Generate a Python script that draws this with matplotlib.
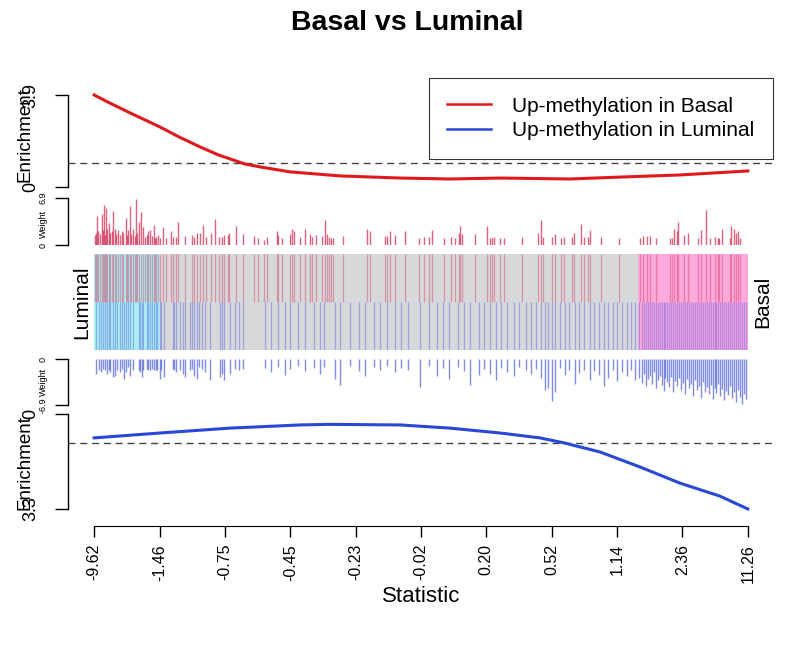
import numpy as np
import matplotlib
matplotlib.use('Agg')
import matplotlib.pyplot as plt
from matplotlib.patches import Rectangle

plt.rcParams['font.family'] = ['Liberation Sans', 'DejaVu Sans']

# x positions are rank fractions (0 = most negative statistic, 1 = most positive)
tick_labels = ['-9.62', '-1.46', '-0.75', '-0.45', '-0.23', '-0.02',
               '0.20', '0.52', '1.14', '2.36', '11.26']

# running enrichment curves
red_x = [0.0, 0.024, 0.055, 0.101, 0.130, 0.162, 0.190, 0.208, 0.230, 0.254, 0.300,
         0.376, 0.468, 0.544, 0.621, 0.728, 0.804, 0.896, 1.0]
red_y = [3.90, 3.56, 3.14, 2.54, 2.12, 1.70, 1.36, 1.19, 0.98, 0.85, 0.64,
         0.47, 0.38, 0.34, 0.38, 0.34, 0.42, 0.51, 0.68]
blue_x = [0.0, 0.101, 0.208, 0.315, 0.361, 0.468, 0.544, 0.621, 0.682, 0.720,
          0.774, 0.835, 0.896, 0.957, 1.0]
blue_y = [0.83, 0.66, 0.49, 0.38, 0.36, 0.38, 0.49, 0.66, 0.83, 1.01,
          1.32, 1.84, 2.40, 2.85, 3.30]

# set members: position and weight
red_pos = [0.001, 0.003, 0.004, 0.006, 0.009, 0.012, 0.013, 0.015, 0.016, 0.018,
           0.020, 0.022, 0.024, 0.027, 0.029, 0.032, 0.034, 0.037, 0.040, 0.042,
           0.044, 0.048, 0.050, 0.052, 0.055, 0.057, 0.059, 0.062, 0.064, 0.066,
           0.068, 0.071, 0.074, 0.078, 0.081, 0.083, 0.086, 0.089, 0.091, 0.093,
           0.095, 0.098, 0.101, 0.105, 0.110, 0.118, 0.121, 0.125, 0.128, 0.139,
           0.149, 0.153, 0.158, 0.162, 0.166, 0.171, 0.178, 0.185, 0.191, 0.195,
           0.198, 0.204, 0.207, 0.217, 0.227, 0.245, 0.251, 0.260, 0.264, 0.279,
           0.281, 0.287, 0.300, 0.303, 0.306, 0.315, 0.323, 0.330, 0.334, 0.340,
           0.349, 0.353, 0.356, 0.359, 0.362, 0.366, 0.380, 0.418, 0.422, 0.445,
           0.448, 0.453, 0.460, 0.476, 0.497, 0.504, 0.513, 0.517, 0.535, 0.546,
           0.552, 0.558, 0.560, 0.563, 0.583, 0.601, 0.606, 0.609, 0.612, 0.621,
           0.627, 0.654, 0.679, 0.683, 0.686, 0.701, 0.705, 0.714, 0.719, 0.731,
           0.734, 0.744, 0.749, 0.756, 0.759, 0.776, 0.803, 0.835, 0.840, 0.845,
           0.851, 0.859, 0.881, 0.884, 0.887, 0.891, 0.893, 0.902, 0.908, 0.924,
           0.928, 0.936, 0.942, 0.950, 0.954, 0.956, 0.960, 0.972, 0.974, 0.979,
           0.982, 0.985, 0.988]
red_wt = [1.4, 1.8, 4.3, 2.0, 1.6, 4.5, 2.2, 5.9, 1.5, 5.4,
          2.4, 3.2, 1.8, 2.1, 5.0, 2.4, 1.6, 2.2, 1.5, 2.0,
          1.7, 3.9, 1.4, 2.2, 5.7, 1.6, 2.3, 1.3, 6.7, 1.8,
          3.4, 4.9, 2.7, 1.2, 1.4, 2.1, 2.2, 1.3, 2.9, 1.1,
          1.2, 1.4, 1.0, 2.7, 1.0, 2.1, 1.2, 1.2, 3.4, 1.3,
          1.5, 1.2, 1.7, 1.8, 2.9, 1.2, 1.7, 3.8, 1.2, 1.2,
          1.5, 1.5, 1.7, 2.8, 1.6, 1.3, 1.1, 0.8, 1.2, 2.0,
          1.5, 1.1, 1.6, 2.3, 2.0, 1.2, 2.3, 1.6, 1.2, 1.5,
          1.3, 3.7, 1.6, 1.2, 1.0, 1.0, 1.3, 2.3, 2.1, 1.3,
          1.3, 2.1, 1.5, 2.0, 1.0, 1.2, 1.2, 2.2, 1.0, 1.2,
          1.0, 1.7, 2.8, 1.6, 1.6, 2.8, 1.0, 1.0, 1.2, 1.0,
          1.0, 1.2, 1.7, 3.6, 1.2, 1.2, 1.6, 1.0, 1.2, 1.2,
          1.7, 3.1, 1.2, 1.2, 2.2, 1.2, 1.0, 1.0, 1.3, 1.3,
          1.3, 1.0, 1.1, 1.1, 2.4, 2.0, 3.4, 1.5, 1.7, 1.0,
          2.2, 5.1, 1.0, 1.2, 1.0, 1.0, 2.3, 1.0, 2.8, 2.4,
          1.7, 2.0, 1.0]

blue_pos = [0.003, 0.007, 0.010, 0.014, 0.017, 0.019, 0.023, 0.025, 0.029, 0.032,
            0.035, 0.039, 0.042, 0.045, 0.049, 0.052, 0.055, 0.059, 0.068, 0.070,
            0.073, 0.075, 0.081, 0.083, 0.086, 0.088, 0.091, 0.094, 0.096, 0.101,
            0.103, 0.107, 0.120, 0.122, 0.125, 0.131, 0.136, 0.139, 0.147, 0.149,
            0.153, 0.157, 0.161, 0.165, 0.170, 0.177, 0.193, 0.195, 0.199, 0.208,
            0.216, 0.221, 0.228, 0.262, 0.270, 0.281, 0.292, 0.300, 0.312, 0.322,
            0.336, 0.345, 0.352, 0.368, 0.376, 0.391, 0.405, 0.415, 0.428, 0.437,
            0.448, 0.460, 0.470, 0.480, 0.498, 0.512, 0.525, 0.534, 0.543, 0.556,
            0.566, 0.575, 0.588, 0.597, 0.606, 0.614, 0.622, 0.631, 0.642, 0.650,
            0.660, 0.668, 0.676, 0.683, 0.690, 0.695, 0.700, 0.705, 0.712, 0.720,
            0.727, 0.735, 0.742, 0.750, 0.758, 0.765, 0.772, 0.780, 0.786, 0.793,
            0.800, 0.808, 0.815, 0.822, 0.828, 0.834, 0.838, 0.841, 0.844, 0.847,
            0.850, 0.853, 0.856, 0.859, 0.862, 0.865, 0.868, 0.871, 0.874, 0.877,
            0.880, 0.883, 0.886, 0.889, 0.892, 0.895, 0.898, 0.901, 0.904, 0.907,
            0.910, 0.913, 0.916, 0.919, 0.922, 0.925, 0.928, 0.931, 0.934, 0.937,
            0.940, 0.943, 0.946, 0.949, 0.952, 0.955, 0.958, 0.961, 0.964, 0.967,
            0.970, 0.973, 0.976, 0.979, 0.982, 0.985, 0.988, 0.991, 0.994, 0.997]
blue_wt = [2.2, 1.7, 2.0, 1.5, 1.7, 2.2, 1.7, 2.0, 2.7, 2.5,
           1.7, 2.0, 1.5, 3.0, 2.0, 1.2, 2.5, 1.7, 1.7, 2.0,
           2.7, 1.7, 1.5, 1.7, 1.7, 1.5, 1.7, 1.7, 1.7, 3.0,
           1.7, 2.7, 1.5, 1.7, 2.0, 1.7, 2.2, 2.7, 1.7, 1.5,
           2.5, 3.0, 1.2, 1.5, 2.0, 3.2, 2.7, 2.2, 3.2, 2.2,
           1.5, 1.7, 1.5, 1.4, 2.0, 1.2, 2.4, 1.5, 1.0, 1.8,
           1.3, 2.2, 1.2, 3.0, 3.9, 1.0, 1.8, 2.6, 1.2, 1.6,
           1.0, 2.0, 1.3, 1.7, 4.2, 1.0, 2.5, 1.4, 3.0, 1.2,
           1.8, 3.9, 2.4, 1.5, 2.2, 3.2, 1.3, 1.9, 2.6, 1.2,
           1.6, 2.2, 1.5, 2.8, 4.6, 4.3, 6.3, 5.0, 1.4, 2.4,
           1.7, 3.8, 2.1, 1.6, 3.1, 1.8, 2.4, 4.0, 2.9, 1.7,
           3.3, 2.0, 2.6, 1.6, 3.2, 2.8, 3.6, 2.2, 4.1, 3.0,
           2.5, 3.8, 2.0, 4.4, 3.1, 2.6, 3.9, 4.8, 2.9, 3.5,
           4.2, 2.7, 5.0, 3.3, 4.0, 2.8, 4.6, 3.6, 5.2, 3.0,
           4.3, 3.8, 5.5, 3.2, 4.7, 4.0, 5.8, 3.5, 4.9, 4.2,
           5.3, 3.9, 6.0, 4.4, 5.1, 3.7, 5.6, 4.5, 6.2, 4.8,
           5.4, 4.1, 5.9, 5.0, 6.5, 4.6, 5.7, 6.8, 5.2, 6.0]

low_cut = 0.101   # lower quantile region
high_cut = 0.832  # upper quantile region

W, H = 789, 645
fig = plt.figure(figsize=(W / 100, H / 100), dpi=100)


def make_ax(top, bottom):
    # pixel rows -> figure fraction, plot region 68..774 px
    return fig.add_axes([68 / W, 1 - bottom / H, 706 / W, (bottom - top) / H])


def bracket(ax, lo, hi, labels, fs, pad):
    for s in ['top', 'right', 'bottom']:
        ax.spines[s].set_visible(False)
    ax.spines['left'].set_bounds(lo, hi)
    ax.spines['left'].set_linewidth(1.0)
    ax.set_yticks([lo, hi])
    ax.set_yticklabels(labels, rotation=90, va='center', fontsize=fs)
    ax.tick_params(axis='y', length=9.4, width=1.0, pad=pad)
    ax.set_xticks([])
    ax.set_xlim(-0.04, 1.04)
    ax.patch.set_alpha(0)


red_c = '#e0191f'
blue_c = '#2a48d8'

# top enrichment
ax1 = make_ax(95, 187)
ax1.set_ylim(0, 3.9)
bracket(ax1, 0, 3.9, ['0', '3.9'], 13, 11)
ax1.axhline(1.0, color='#444444', lw=1.0, ls=(0, (5, 3.5)))
l1, = ax1.plot(red_x, red_y, color=red_c, lw=2.2, clip_on=False)

# top weights
ax2 = make_ax(198, 245)
ax2.set_ylim(0, 6.9)
bracket(ax2, 0, 6.9, ['0', '6.9'], 6.5, 5)
ax2.vlines(red_pos, 0, red_wt, color='#d02048', alpha=0.7, lw=1.0)

# barcode
ax3 = make_ax(254, 350)
ax3.set_xlim(-0.04, 1.04)
ax3.set_ylim(0, 2)
ax3.axis('off')
ax3.add_patch(Rectangle((0, 0), 1, 2, color='#d6d8d9', lw=0))
ax3.add_patch(Rectangle((0, 0), low_cut, 2, color='#aeeef2', lw=0))
ax3.add_patch(Rectangle((high_cut, 0), 1 - high_cut, 2, color='#ffaadd', lw=0))
ax3.vlines(red_pos, 1, 2, color='#d2335a', alpha=0.4, lw=0.9)
ax3.vlines(blue_pos, 0, 1, color='#4a55e0', alpha=0.4, lw=0.9)

# bottom weights
ax4 = make_ax(359, 405)
ax4.set_ylim(-6.9, 0)
bracket(ax4, -6.9, 0, ['-6.9', '0'], 6.5, 5)
ax4.vlines(blue_pos, [-w for w in blue_wt], 0, color='#3d4fd6', alpha=0.65, lw=1.0)

# bottom enrichment
ax5 = make_ax(414, 509)
ax5.set_ylim(3.3, 0)
bracket(ax5, 0, 3.3, ['0', '3.3'], 13, 11)
ax5.axhline(1.0, color='#444444', lw=1.0, ls=(0, (5, 3.5)))
l2, = ax5.plot(blue_x, blue_y, color=blue_c, lw=2.2, clip_on=False)
ax5.spines['bottom'].set_visible(True)
ax5.spines['bottom'].set_position(('outward', 12.2))
ax5.spines['bottom'].set_bounds(0, 1)
ax5.set_xticks(np.linspace(0, 1, len(tick_labels)))
ax5.set_xticklabels(tick_labels, rotation=90, fontsize=11.5)
ax5.tick_params(axis='x', length=8, width=1.0, pad=5)

# labels
fig.text(25 / W, 1 - 135 / H, 'Enrichment', rotation=90, ha='center', va='center', fontsize=13.5)
fig.text(25 / W, 1 - 463 / H, 'Enrichment', rotation=90, ha='center', va='center', fontsize=13.5)
fig.text(43 / W, 1 - 224 / H, 'Weight', rotation=90, ha='center', va='center', fontsize=6.5)
fig.text(43 / W, 1 - 382 / H, 'Weight', rotation=90, ha='center', va='center', fontsize=6.5)
fig.text(82 / W, 1 - 302 / H, 'Luminal', rotation=90, ha='center', va='center', fontsize=15)
fig.text(763 / W, 1 - 302 / H, 'Basal', rotation=90, ha='center', va='center', fontsize=15)
fig.text(421 / W, 1 - 596 / H, 'Statistic', ha='center', va='center', fontsize=16)
fig.text(407 / W, 1 - 23 / H, 'Basal vs Luminal', ha='center', va='center',
         fontsize=20.5, fontweight='bold')

leg = fig.legend([l1, l2], ['Up-methylation in Basal', 'Up-methylation in Luminal'],
                 loc='upper right', bbox_to_anchor=(773 / W, 1 - 78 / H),
                 fontsize=15, frameon=True, fancybox=False, edgecolor='black',
                 handlelength=2.1, handletextpad=1.0, borderpad=0.9,
                 labelspacing=0.25, borderaxespad=0)
leg.get_frame().set_linewidth(0.8)
for h in leg.get_lines():
    h.set_linewidth(1.8)

fig.savefig('out.png', dpi=100)
